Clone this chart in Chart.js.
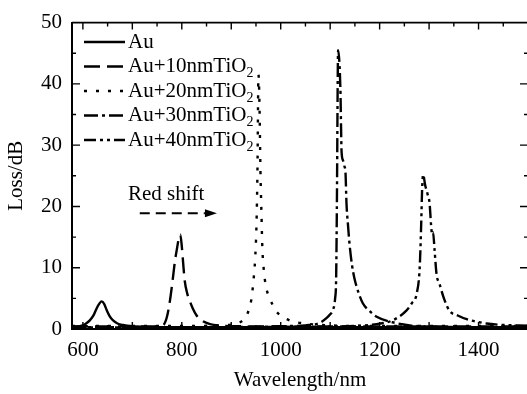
<!DOCTYPE html>
<html>
<head>
<meta charset="utf-8">
<script src="https://cdn.jsdelivr.net/npm/chart.js@4.4.1/dist/chart.umd.min.js"></script>
<style>
  html, body { margin: 0; padding: 0; background: #fff; overflow: hidden; }
  canvas { display: block; }
</style>
</head>
<body>
<canvas id="lossChart" width="540" height="394"></canvas>
<script>
// wavelength (nm) / loss (dB), one pair of arrays per curve
const auWl   = [578, 594, 605, 614, 622, 628, 633, 638, 643, 648, 654, 661, 670, 681, 701, 730, 800, 900, 1000, 1100, 1200, 1300, 1400, 1500];
const auLoss = [0.35, 0.45, 0.8, 1.4, 2.3, 3.4, 4.1, 4.5, 4.1, 3.1, 2.1, 1.4, 0.9, 0.65, 0.45, 0.35, 0.3, 0.3, 0.3, 0.3, 0.3, 0.3, 0.3, 0.3];

const ti10Wl   = [578, 650, 720, 750, 762, 770, 776, 782, 786, 790, 794, 797, 800, 803, 806, 811, 816, 822, 830, 840, 857, 877, 920, 1000, 1100, 1200, 1300, 1400, 1500];
const ti10Loss = [0.4, 0.4, 0.4, 0.45, 0.6, 2.0, 4.6, 8.3, 11, 13, 14.8, 15.4, 13.5, 10.5, 7.8, 5.8, 4.6, 3.4, 2.2, 1.4, 0.8, 0.55, 0.45, 0.4, 0.4, 0.4, 0.4, 0.4, 0.4];

const ti20Wl   = [578, 700, 800, 880, 910, 925, 931, 937, 941, 945, 948, 951, 953, 955, 957, 959, 961, 963, 966, 970, 978, 990, 1000, 1018, 1048, 1099, 1150, 1200, 1300, 1400, 1500];
const ti20Loss = [0.5, 0.5, 0.5, 0.6, 0.9, 1.5, 2.2, 3.5, 5, 8, 11, 17, 26, 41.5, 37, 26, 19, 13, 9.5, 7, 5, 3, 2.2, 1.4, 0.9, 0.6, 0.5, 0.5, 0.5, 0.5, 0.5];

const ti30Wl   = [578, 800, 950, 1000, 1050, 1079, 1093, 1100, 1105, 1110, 1112, 1113, 1114, 1115, 1116, 1119, 1121, 1122, 1123, 1126, 1129, 1131, 1133, 1136, 1139, 1144, 1149, 1157, 1166, 1180, 1194, 1226, 1261, 1300, 1400, 1500];
const ti30Loss = [0.25, 0.25, 0.35, 0.45, 0.6, 1.0, 1.8, 2.4, 3.0, 5, 8, 15, 25, 38, 45.5, 43, 38, 33, 29, 27.5, 26.5, 25.5, 20.5, 17, 14, 10.5, 8.3, 6, 4.2, 2.9, 2, 1.1, 0.6, 0.4, 0.3, 0.3];

const ti40Wl   = [578, 900, 1000, 1100, 1150, 1194, 1226, 1254, 1265, 1275, 1281, 1284, 1286, 1288, 1292, 1297, 1301, 1304, 1306, 1308, 1311, 1315, 1321, 1330, 1341, 1358, 1376, 1416, 1442, 1500];
const ti40Loss = [0.3, 0.3, 0.35, 0.4, 0.5, 0.8, 1.4, 3, 4.2, 5.8, 10, 17, 23, 25.2, 23.5, 22, 20.5, 17, 15.5, 15.8, 13, 9, 7.4, 5, 3, 2.2, 1.6, 0.9, 0.7, 0.55];

const seriesNames = ['Au', 'Au+10nmTiO', 'Au+20nmTiO', 'Au+30nmTiO', 'Au+40nmTiO'];
const xTickLabels = [600, 800, 1000, 1200, 1400];
const yTickLabels = [0, 10, 20, 30, 40, 50];

const FONT = "'Liberation Serif', 'Times New Roman', serif";
const dashes = [[], [16, 7], [3, 9], [14, 4, 3, 4], [12, 4, 3, 4, 3, 4]];

const pairs = (xs, ys) => xs.map((v, i) => ({ x: v, y: ys[i] }));
const allData = [
  pairs(auWl, auLoss),
  pairs(ti10Wl, ti10Loss),
  pairs(ti20Wl, ti20Loss),
  pairs(ti30Wl, ti30Loss),
  pairs(ti40Wl, ti40Loss)
];

// inward ticks on all four sides + top/right frame
const framePlugin = {
  id: 'frame',
  afterDatasetsDraw(chart) {
    const { ctx, chartArea: a, scales: { x, y } } = chart;
    ctx.save();
    ctx.strokeStyle = '#000';
    ctx.setLineDash([]);
    ctx.lineWidth = 1.6;
    ctx.beginPath();
    ctx.moveTo(a.left, a.top);
    ctx.lineTo(a.right, a.top);
    ctx.lineTo(a.right, a.bottom);
    ctx.stroke();
    ctx.lineWidth = 1.4;
    ctx.beginPath();
    for (let v = 600; v <= 1500; v += 50) {
      const px = x.getPixelForValue(v);
      const len = v % 100 === 0 ? 7 : 4;
      ctx.moveTo(px, a.top); ctx.lineTo(px, a.top + len);
      ctx.moveTo(px, a.bottom); ctx.lineTo(px, a.bottom - len);
    }
    for (let v = 5; v < 50; v += 5) {
      const py = y.getPixelForValue(v);
      const len = v % 10 === 0 ? 8 : 4;
      ctx.moveTo(a.left, py); ctx.lineTo(a.left + len, py);
      ctx.moveTo(a.right, py); ctx.lineTo(a.right - len, py);
    }
    ctx.stroke();
    ctx.restore();
  },
  afterDraw(chart) {
    const { ctx, scales: { x, y } } = chart;
    ctx.save();
    ctx.fillStyle = '#000';
    ctx.strokeStyle = '#000';
    ctx.textBaseline = 'middle';
    ctx.textAlign = 'left';
    // legend
    seriesNames.forEach((name, i) => {
      const rowY = 42 + i * 24.5;
      ctx.lineWidth = 2.4;
      ctx.setLineDash(dashes[i]);
      ctx.beginPath();
      ctx.moveTo(84, rowY);
      ctx.lineTo(125, rowY);
      ctx.stroke();
      ctx.setLineDash([]);
      ctx.font = '21px ' + FONT;
      ctx.fillText(name, 128, rowY);
      if (i > 0) {
        const w = ctx.measureText(name).width;
        ctx.font = '14px ' + FONT;
        ctx.fillText('2', 128 + w, rowY + 7);
      }
    });
    // red shift note
    ctx.font = '21px ' + FONT;
    ctx.fillText('Red shift', x.getPixelForValue(691), y.getPixelForValue(22));
    const ay = y.getPixelForValue(18.9);
    const x0 = x.getPixelForValue(715);
    const x1 = x.getPixelForValue(871);
    ctx.lineWidth = 2;
    ctx.setLineDash([10, 6]);
    ctx.beginPath();
    ctx.moveTo(x0, ay);
    ctx.lineTo(x1 - 12, ay);
    ctx.stroke();
    ctx.setLineDash([]);
    ctx.beginPath();
    ctx.moveTo(x1, ay);
    ctx.lineTo(x1 - 12, ay - 4);
    ctx.lineTo(x1 - 12, ay + 4);
    ctx.closePath();
    ctx.fill();
    ctx.restore();
  }
};

new Chart(document.getElementById('lossChart'), {
  type: 'line',
  data: {
    datasets: allData.map((d, i) => ({
      label: seriesNames[i],
      data: d,
      borderColor: '#000',
      borderWidth: 2.4,
      borderDash: dashes[i],
      pointRadius: 0,
      fill: false,
      cubicInterpolationMode: 'monotone'
    }))
  },
  options: {
    responsive: false,
    animation: false,
    layout: { padding: { top: 17, right: 12, left: 0, bottom: 0 } },
    plugins: { legend: { display: false }, tooltip: { enabled: false } },
    scales: {
      x: {
        type: 'linear',
        min: 578,
        max: 1500,
        afterBuildTicks: s => { s.ticks = xTickLabels.map(v => ({ value: v })); },
        afterFit: s => { s.height = 65; },
        grid: { display: false, drawTicks: false },
        border: { display: true, color: '#000', width: 2 },
        ticks: { color: '#000', font: { family: FONT, size: 21 }, padding: 9, maxRotation: 0, callback: v => String(v) },
        title: { display: true, text: 'Wavelength/nm', color: '#000', font: { family: FONT, size: 21 }, padding: { top: 0, bottom: 1 } }
      },
      y: {
        min: 0,
        max: 50,
        afterBuildTicks: s => { s.ticks = yTickLabels.map(v => ({ value: v })); },
        afterFit: s => { s.width = 72; },
        grid: { display: false, drawTicks: false },
        border: { display: true, color: '#000', width: 2 },
        ticks: { color: '#000', font: { family: FONT, size: 21 }, padding: 10, callback: v => String(v) },
        title: { display: true, text: 'Loss/dB', color: '#000', font: { family: FONT, size: 21 }, padding: { top: 4, bottom: 0 } }
      }
    }
  },
  plugins: [framePlugin]
});
</script>
</body>
</html>
